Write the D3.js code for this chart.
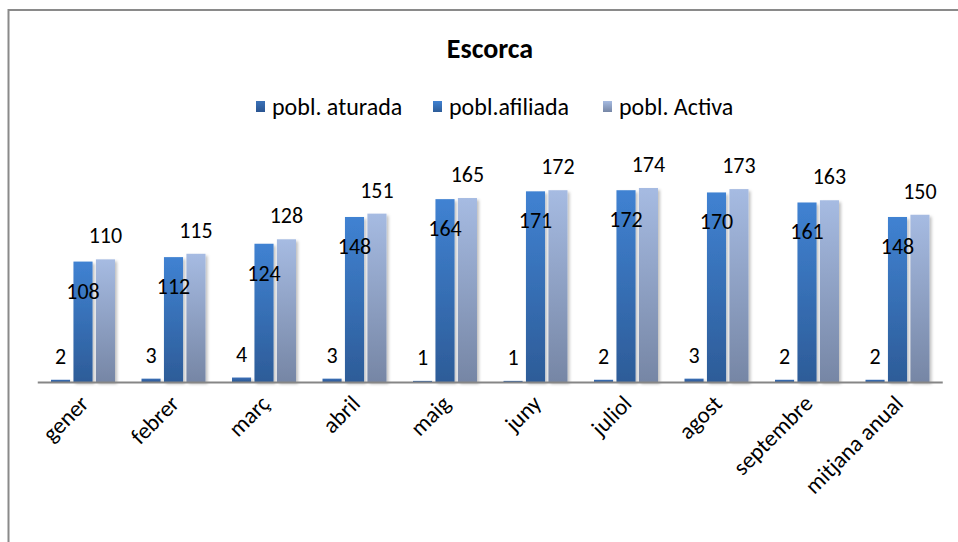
<!DOCTYPE html>
<html>
<head>
<meta charset="utf-8">
<script src="https://cdn.jsdelivr.net/npm/d3@7"></script>
<style>
  body { margin: 0; background: #fff; }
  svg text { font-family: Carlito, Calibri, Lato, sans-serif; fill: #000; }
</style>
</head>
<body>
<svg id="chart" width="958" height="542"></svg>
<script>
// data
var months = ["gener", "febrer", "març", "abril", "maig", "juny", "juliol", "agost", "septembre", "mitjana anual"];
var seriesNames = ["pobl. aturada", "pobl.afiliada", "pobl. Activa"];
var aturada = [2, 3, 4, 3, 1, 1, 2, 3, 2, 2];
var afiliada = [108, 112, 124, 148, 164, 171, 172, 170, 161, 148];
var activa = [110, 115, 128, 151, 165, 172, 174, 173, 163, 150];
var seriesValues = [aturada, afiliada, activa];

var svg = d3.select("#chart");

// gradients for each series (top -> bottom)
var gradColors = [["#3b71b8", "#2a5591"], ["#4082d2", "#2d5c98"], ["#a6bbe2", "#7686a5"]];
var defs = svg.append("defs");
gradColors.forEach(function(c, i){
    var g = defs.append("linearGradient").attr("id", "grad" + i)
        .attr("x1", 0).attr("y1", 0).attr("x2", 0).attr("y2", 1);
    g.append("stop").attr("offset", "0%").attr("stop-color", c[0]);
    g.append("stop").attr("offset", "100%").attr("stop-color", c[1]);
});
var shadow = defs.append("filter").attr("id", "shadow")
    .attr("x", "-20%").attr("y", "-5%").attr("width", "160%").attr("height", "115%");
shadow.append("feDropShadow").attr("dx", 2).attr("dy", 2).attr("stdDeviation", 1.5)
    .attr("flood-color", "#000").attr("flood-opacity", 0.25);

// outer frame
svg.append("rect").attr("x", 8.5).attr("y", 10).attr("width", 960).attr("height", 560)
    .attr("fill", "none").attr("stroke", "#8a8a8a").attr("stroke-width", 2);

// title
svg.append("text").attr("x", 490).attr("y", 58).attr("text-anchor", "middle")
    .style("font-size", "28px").style("font-weight", "bold").text("Escorca");

// legend
var legendX = [256, 433, 603];
var legend = svg.append("g");
seriesNames.forEach(function(name, i){
    legend.append("rect").attr("x", legendX[i]).attr("y", 101).attr("width", 9).attr("height", 11)
        .attr("fill", "url(#grad" + i + ")");
    legend.append("text").attr("x", legendX[i] + 16).attr("y", 115)
        .style("font-size", "24px").text(name);
});

// scales
var baseY = 382;
var x = d3.scaleBand().domain(months).range([37.75, 942.75]).paddingInner(0.293).paddingOuter(0.1465);
var xs = d3.scaleBand().domain(d3.range(3)).range([0, x.bandwidth()]).paddingInner(0.15);
var y = d3.scaleLinear().domain([0, 200]).range([baseY, baseY - 223]);

var barLayer = svg.append("g");
var labelLayer = svg.append("g");

// bars first, labels on top of everything
months.forEach(function(m, mi){
    seriesValues.forEach(function(vals, si){
        var v = vals[mi];
        var bx = x(m) + xs(si);
        barLayer.append("rect")
            .attr("x", bx).attr("y", y(v))
            .attr("width", xs.bandwidth()).attr("height", baseY - y(v))
            .attr("fill", "url(#grad" + si + ")")
            .attr("filter", "url(#shadow)");
        // afiliada labels sit inside the bar top, others above
        var ly = si === 1 ? y(v) + 37 : y(v) - 16;
        labelLayer.append("text")
            .attr("x", bx + xs.bandwidth() / 2).attr("y", ly)
            .attr("text-anchor", "middle").style("font-size", "22px").text(v);
    });
});

// axis line
svg.append("line").attr("x1", 37.75).attr("x2", 942.75).attr("y1", baseY + 0.5).attr("y2", baseY + 0.5)
    .attr("stroke", "#868686").attr("stroke-width", 2);

// category labels rotated
svg.append("g").selectAll("text").data(months).join("text")
    .attr("text-anchor", "end")
    .attr("transform", function(d){
        var cx = x(d) + x.bandwidth() / 2 + 7;
        return "translate(" + cx + "," + 405 + ") rotate(-45)";
    })
    .style("font-size", "23px").text(function(d){ return d; });
</script>
</body>
</html>
